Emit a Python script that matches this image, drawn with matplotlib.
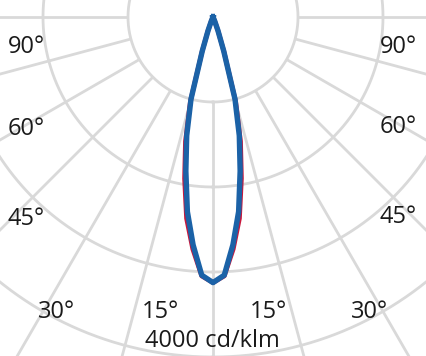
import numpy as np
import matplotlib.pyplot as plt

# luminous intensity distribution, cd/klm against gamma angle (deg)
gamma = [0, 2.5, 5, 7.5, 10, 12.5, 15, 17.5, 20, 22.5, 25, 27.5, 30, 45, 60, 75, 90]
c0_c180 = [3125, 3050, 2740, 2390, 1930, 1500, 1030, 430, 175, 58, 14, 0, 0, 0, 0, 0, 0]
c90_c270 = [3125, 3040, 2690, 2310, 1840, 1430, 1000, 420, 170, 55, 12, 0, 0, 0, 0, 0, 0]

ring_values = [1000, 2000, 3000, 4000]
spoke_angles = np.arange(-180, 181, 15)

angle_labels = ["90°", "60°", "45°", "30°", "15°"]
left_label_pos = [(8, 53), (8, 135), (8, 225), (38, 318), (142, 318)]
right_label_pos = [(380, 53), (380, 133), (380, 223), (351, 318), (250, 318)]
scale_label = "4000 cd/klm"

plt.rcParams['font.family'] = ['Open Sans', 'DejaVu Sans']

W, H = 427, 356
K = 1000 / 85.0          # cd/klm per pixel
cx, cy = 213, 17         # luminaire position in pixels

fig = plt.figure(figsize=(W / 100, H / 100), dpi=100)
ax = fig.add_axes([0, 0, 1, 1])
ax.set_xlim(-cx * K, (W - cx) * K)
ax.set_ylim((H - cy) * K, -cy * K)
ax.axis("off")

grid_col = "#d9d9d9"
t = np.linspace(0, 2 * np.pi, 721)
for r in ring_values:
    ax.plot(r * np.sin(t), r * np.cos(t), color=grid_col, lw=2.0, zorder=1)
for a in np.radians(spoke_angles):
    ax.plot([1000 * np.sin(a), 6000 * np.sin(a)], [1000 * np.cos(a), 6000 * np.cos(a)],
            color=grid_col, lw=2.0, solid_capstyle="butt", zorder=1)


def curve(vals):
    g = np.radians(gamma)
    th = np.concatenate([-g[::-1], g[1:]])
    r = np.concatenate([np.array(vals)[::-1], np.array(vals)[1:]])
    return r * np.sin(th), r * np.cos(th)


x, y = curve(c0_c180)
ax.plot(x, y, color="#c8173c", lw=3.3, solid_joinstyle="round", zorder=3)
x, y = curve(c90_c270)
ax.plot(x, y, color="#1b62a7", lw=3.9, solid_joinstyle="round", zorder=4)

txt = dict(fontsize=17, color="#1a1a1a", ha="left", va="baseline")
for lab, (px, py) in zip(angle_labels, left_label_pos):
    fig.text(px / W, 1 - py / H, lab, **txt)
for lab, (px, py) in zip(angle_labels, right_label_pos):
    fig.text(px / W, 1 - py / H, lab, **txt)
fig.text(212 / W, 1 - 347 / H, scale_label, fontsize=17, color="#1a1a1a",
         ha="center", va="baseline")

fig.savefig("out.png", dpi=100)
